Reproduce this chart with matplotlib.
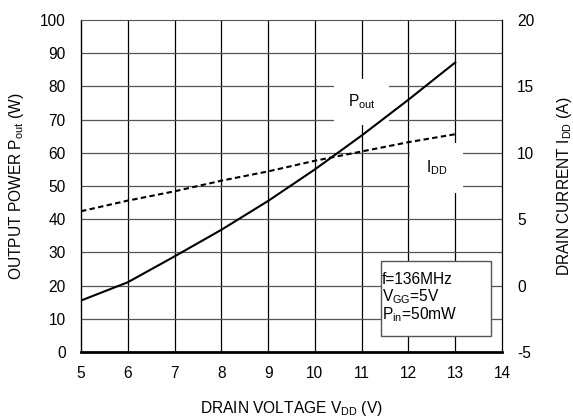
import numpy as np
import matplotlib.pyplot as plt
from matplotlib.patches import Rectangle

plt.rcParams['font.family'] = ['Liberation Sans', 'DejaVu Sans']
plt.rcParams['mathtext.fontset'] = 'custom'
plt.rcParams['mathtext.rm'] = 'Liberation Sans'
plt.rcParams['axes.unicode_minus'] = False

# drain voltage (V)
vdd = [5, 6, 7, 8, 9, 10, 11, 12, 13]
# output power (W)
pout = [15.5, 21, 28.8, 36.8, 45.5, 55, 65.2, 76, 87.2]
# drain current (A)
idd = [5.6, 6.4, 7.1, 7.9, 8.6, 9.4, 10.1, 10.8, 11.4]

fs = 11.2

fig = plt.figure(figsize=(5.73, 4.18), dpi=100)
ax = fig.add_axes([81/573, 1 - 352/418, (502-81)/573, (352-20)/418])
ax2 = ax.twinx()

ax.set_xlim(5, 14)
ax.set_ylim(0, 100)
ax2.set_ylim(-5, 20)
ax.set_xticks(np.arange(5, 15, 1))
ax.set_yticks(np.arange(0, 101, 10))
ax2.set_yticks(np.arange(-5, 21, 5))

for x in range(6, 14):
    ax.axvline(x, color='black', lw=0.9, zorder=1)
for y in range(10, 100, 10):
    ax.axhline(y, color='#555555', lw=0.9, zorder=1)

ax.plot(vdd, pout, color='black', lw=1.5, zorder=3)
ax2.plot(vdd, idd, color='black', lw=1.5, ls=(0, (2.6, 1.6)), zorder=3)

ax.tick_params(length=0, labelsize=fs, pad=11)
ax.tick_params(axis='x', pad=10)
ax2.tick_params(length=0, labelsize=fs, pad=11)
ax.spines['left'].set_linewidth(1.0)
ax.spines['top'].set_color('#555555')
ax.spines['right'].set_visible(False)
ax.spines['bottom'].set_linewidth(2.0)
for s in ['left', 'top', 'bottom']:
    ax2.spines[s].set_visible(False)
ax2.spines['right'].set_linewidth(0.9)

ax.set_xlabel('DRAIN VOLTAGE V$_{\\mathrm{DD}}$ (V)', fontsize=fs, labelpad=13)
ax.set_ylabel('OUTPUT POWER P$_{\\mathrm{out}}$ (W)', fontsize=fs, labelpad=10)
ax2.set_ylabel('DRAIN CURRENT I$_{\\mathrm{DD}}$ (A)', fontsize=fs, labelpad=15)

# curve labels with white background over the grid
ax.text(11.0, 75.3, 'P$_{\\mathrm{out}}$', fontsize=fs, ha='center', va='center', zorder=2,
        bbox=dict(facecolor='white', edgecolor='none', boxstyle='square,pad=0.9'))
ax.text(12.6, 55.4, 'I$_{\\mathrm{DD}}$', fontsize=fs, ha='center', va='center', zorder=2,
        bbox=dict(facecolor='white', edgecolor='none', boxstyle='square,pad=1.0'))

ax.add_patch(Rectangle((0.712, 0.048), 0.262, 0.227, transform=ax.transAxes,
                       facecolor='white', edgecolor='#555555', lw=1.0, zorder=2))
ax.text(0.714, 0.162, 'f=136MHz\nV$_{\\mathrm{GG}}$=5V\nP$_{\\mathrm{in}}$=50mW', fontsize=fs,
        ha='left', va='center', linespacing=1.0, zorder=4, transform=ax.transAxes)

fig.savefig('out.png', dpi=100)
